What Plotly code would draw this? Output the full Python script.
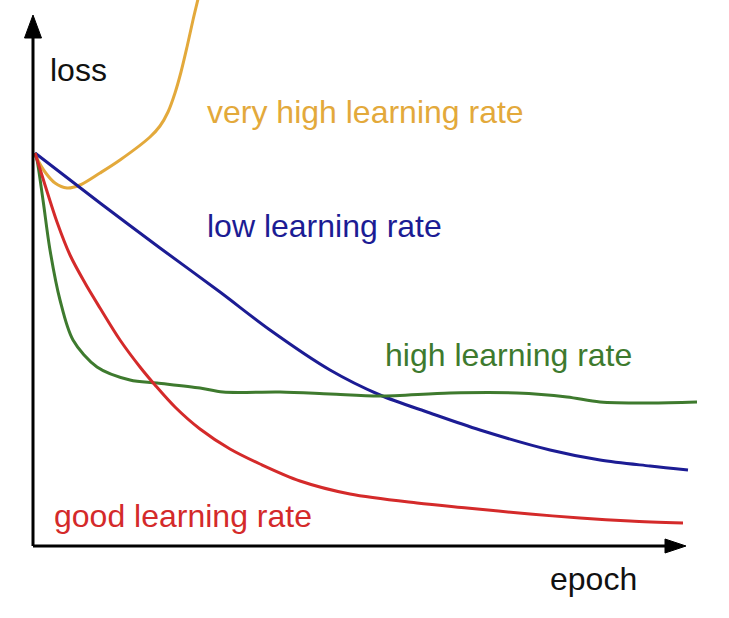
import plotly.graph_objects as go

# ---- data (arbitrary units: epoch / loss) ----
low_epoch = [2, 67, 127, 187, 237, 297, 347, 397, 447, 517, 567, 617, 655]
low_loss = [392, 342, 297, 253, 215, 175, 150, 132, 115, 95, 85, 79, 75]

high_epoch = [2, 4, 10, 17, 27, 40, 64, 97, 124, 167, 190, 247, 297, 347, 417, 484, 534, 567, 617, 664]
high_loss = [392, 385, 345, 295, 245, 205, 178, 165, 162, 157, 153, 153, 151, 149, 152, 152, 148, 143, 142, 143]

good_epoch = [2, 12, 24, 37, 52, 67, 87, 107, 122, 142, 167, 197, 227, 267, 317, 384, 434, 497, 547, 597, 650]
good_loss = [392, 360, 323, 290, 262, 237, 205, 178, 160, 138, 116, 96, 81, 64, 51, 42, 37, 31, 27, 24, 22]

vhigh_epoch = [2, 12, 22, 34, 47, 67, 87, 117, 127, 135, 142, 148, 154, 160, 166]
vhigh_loss = [390, 373, 362, 357, 360, 372, 385, 408, 419, 433, 452, 473, 498, 525, 550]

series_names = ["very high learning rate", "low learning rate", "high learning rate", "good learning rate"]
axis_titles = ["loss", "epoch"]

# ---- styles ----
YELLOW = "#E3A93B"
BLUE = "#1C1C94"
GREEN = "#3E7A2E"
RED = "#D42A2A"
FONT = "Liberation Sans, Arial, sans-serif"
FS = 32

fig = go.Figure()
for xs, ys, col, name in [
    (vhigh_epoch, vhigh_loss, YELLOW, series_names[0]),
    (low_epoch, low_loss, BLUE, series_names[1]),
    (high_epoch, high_loss, GREEN, series_names[2]),
    (good_epoch, good_loss, RED, series_names[3]),
]:
    fig.add_trace(go.Scatter(x=xs, y=ys, mode="lines", name=name,
                             line=dict(color=col, width=3, shape="spline", smoothing=0.9),
                             hoverinfo="skip", showlegend=False))

# axes with arrowheads
X_END, Y_END = 632, 507
fig.add_shape(type="line", x0=0, y0=-1, x1=X_END, y1=-1, line=dict(color="black", width=3))
fig.add_shape(type="line", x0=0, y0=-1, x1=0, y1=Y_END, line=dict(color="black", width=3))
fig.add_shape(type="path", path=f"M {X_END},6 L {X_END},-8 L {X_END + 21},-1 Z",
              fillcolor="black", line=dict(color="black", width=1))
fig.add_shape(type="path", path=f"M -8.5,{Y_END} L 8.5,{Y_END} L 0,{Y_END + 23} Z",
              fillcolor="black", line=dict(color="black", width=1))

labels = [
    (series_names[0], 172, 433, YELLOW),
    (series_names[1], 172, 319, BLUE),
    (series_names[2], 350, 190, GREEN),
    (series_names[3], 19, 29, RED),
    (axis_titles[0], 15, 475, "#111111"),
    (axis_titles[1], 515, -34, "#111111"),
]
for txt, x, y, col in labels:
    fig.add_annotation(x=x, y=y, text=txt, showarrow=False, xanchor="left", yanchor="middle",
                       font=dict(family=FONT, size=FS, color=col))

fig.update_layout(
    width=729, height=618,
    margin=dict(l=0, r=0, t=0, b=0),
    paper_bgcolor="white", plot_bgcolor="white",
    xaxis=dict(range=[-33, 696], visible=False, fixedrange=True),
    yaxis=dict(range=[-73, 545], visible=False, fixedrange=True),
)
fig.write_html("out.html", config={"displayModeBar": False},
               post_script="document.body.style.margin='0';document.body.style.overflow='hidden';")
